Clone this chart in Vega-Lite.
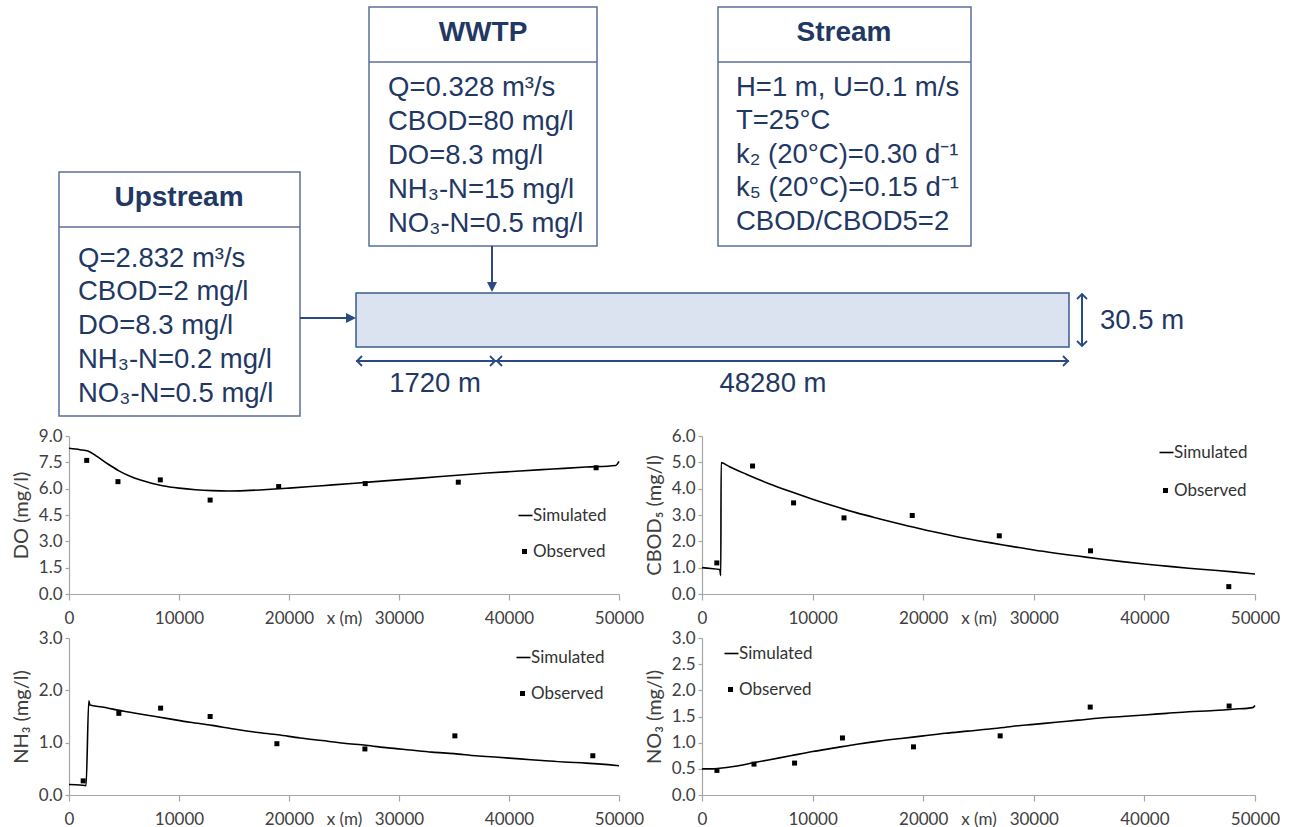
{
  "$schema": "https://vega.github.io/schema/vega-lite/v6.json",
  "background": "white",
  "padding": {"left": 11, "top": 0, "right": 0, "bottom": 0},
  "spacing": 3,
  "resolve": {"scale": {"shape": "independent"}, "legend": {"shape": "independent"}},
  "config": {
    "view": {"stroke": null},
    "font": "Lato",
    "axis": {"grid": false, "domainColor": "#a6a6a6", "tickColor": "#a6a6a6", "domainWidth": 1.2, "tickWidth": 1.2, "labelFont": "Lato", "labelFontSize": 17, "labelColor": "#404040", "titleFont": "Lato", "titleFontSize": 17, "titleFontWeight": "normal", "titleColor": "#404040", "labelOverlap": false},
    "legend": {"labelFont": "Lato", "labelFontSize": 17, "labelColor": "#333333", "padding": 0, "labelOffset": 0, "symbolSize": 100, "rowPadding": 19}
  },
  "datasets": {
    "boxes": [
      {"name": "Upstream", "x1": 60, "x2": 301, "y1": 172, "y2": 416},
      {"name": "WWTP", "x1": 370, "x2": 598, "y1": 7, "y2": 246},
      {"name": "Stream", "x1": 719, "x2": 972, "y1": 7, "y2": 246}
    ],
    "channel": [{"name": "reach", "x1": 357, "x2": 1070, "y1": 293, "y2": 347}],
    "dividers": [
      {"x1": 60, "x2": 301, "y": 227},
      {"x1": 370, "x2": 598, "y": 62},
      {"x1": 719, "x2": 972, "y": 62}
    ],
    "shafts": [
      {"x1": 301, "y1": 318, "x2": 350, "y2": 318},
      {"x1": 493, "y1": 246, "x2": 493, "y2": 285},
      {"x1": 357, "y1": 361, "x2": 497, "y2": 361},
      {"x1": 497, "y1": 361, "x2": 1070, "y2": 361},
      {"x1": 1083, "y1": 294, "x2": 1083, "y2": 346}
    ],
    "heads": [
      {"x": 357, "y": 318, "dir": "right"},
      {"x": 493, "y": 292, "dir": "down"}
    ],
    "chevrons": [
      {"x": 358, "y": 361, "dir": "left"},
      {"x": 496, "y": 361, "dir": "right"},
      {"x": 498, "y": 361, "dir": "left"},
      {"x": 1069, "y": 361, "dir": "right"},
      {"x": 1083, "y": 294, "dir": "up"},
      {"x": 1083, "y": 346, "dir": "down"}
    ],
    "titles": [
      {"text": "Upstream", "x": 180, "y": 198},
      {"text": "WWTP", "x": 484, "y": 33},
      {"text": "Stream", "x": 845, "y": 33}
    ],
    "lines": [
      {"text": "Q=2.832 m³/s", "x": 79, "y": 259},
      {"text": "CBOD=2 mg/l", "x": 79, "y": 292},
      {"text": "DO=8.3 mg/l", "x": 79, "y": 326},
      {"text": "NH₃-N=0.2 mg/l", "x": 79, "y": 360},
      {"text": "NO₃-N=0.5 mg/l", "x": 79, "y": 394},
      {"text": "Q=0.328 m³/s", "x": 389, "y": 88},
      {"text": "CBOD=80 mg/l", "x": 389, "y": 122},
      {"text": "DO=8.3 mg/l", "x": 389, "y": 156},
      {"text": "NH₃-N=15 mg/l", "x": 389, "y": 190},
      {"text": "NO₃-N=0.5 mg/l", "x": 389, "y": 224},
      {"text": "H=1 m, U=0.1 m/s", "x": 737, "y": 88},
      {"text": "T=25°C", "x": 737, "y": 121},
      {"text": "k₂ (20°C)=0.30 d⁻¹", "x": 737, "y": 155},
      {"text": "k₅ (20°C)=0.15 d⁻¹", "x": 737, "y": 188},
      {"text": "CBOD/CBOD5=2", "x": 737, "y": 222}
    ],
    "dims": [
      {"text": "1720 m", "x": 436, "y": 384},
      {"text": "48280 m", "x": 774, "y": 384},
      {"text": "30.5 m", "x": 1143, "y": 321}
    ],
    "do_sim": [
      {"x_m": 0, "value": 8.30}, {"x_m": 1000, "value": 8.22}, {"x_m": 1720, "value": 8.15}, {"x_m": 2500, "value": 7.85},
      {"x_m": 3500, "value": 7.42}, {"x_m": 4500, "value": 7.03}, {"x_m": 5500, "value": 6.72}, {"x_m": 6500, "value": 6.49},
      {"x_m": 7500, "value": 6.31}, {"x_m": 8500, "value": 6.17}, {"x_m": 10000, "value": 6.03}, {"x_m": 11500, "value": 5.94},
      {"x_m": 13000, "value": 5.89}, {"x_m": 14500, "value": 5.87}, {"x_m": 16000, "value": 5.89}, {"x_m": 18000, "value": 5.95},
      {"x_m": 20000, "value": 6.03}, {"x_m": 23000, "value": 6.17}, {"x_m": 26000, "value": 6.31}, {"x_m": 29000, "value": 6.46},
      {"x_m": 32000, "value": 6.60}, {"x_m": 35000, "value": 6.75}, {"x_m": 38000, "value": 6.89}, {"x_m": 41000, "value": 7.01},
      {"x_m": 44000, "value": 7.12}, {"x_m": 47000, "value": 7.23}, {"x_m": 49700, "value": 7.32}, {"x_m": 50000, "value": 7.55}
    ],
    "do_obs": [
      {"x_m": 1610, "value": 7.61, "series": "Observed"}, {"x_m": 4450, "value": 6.40, "series": "Observed"},
      {"x_m": 8300, "value": 6.50, "series": "Observed"}, {"x_m": 12830, "value": 5.35, "series": "Observed"},
      {"x_m": 19060, "value": 6.12, "series": "Observed"}, {"x_m": 26930, "value": 6.29, "series": "Observed"},
      {"x_m": 35390, "value": 6.37, "series": "Observed"}, {"x_m": 47920, "value": 7.19, "series": "Observed"}
    ],
    "cbod_sim": [
      {"x_m": 0, "value": 1.00}, {"x_m": 800, "value": 0.97}, {"x_m": 1600, "value": 0.93}, {"x_m": 1700, "value": 0.70},
      {"x_m": 1730, "value": 4.99}, {"x_m": 2500, "value": 4.83}, {"x_m": 4000, "value": 4.55}, {"x_m": 6000, "value": 4.20},
      {"x_m": 8000, "value": 3.89}, {"x_m": 10000, "value": 3.60}, {"x_m": 12000, "value": 3.33}, {"x_m": 14000, "value": 3.08},
      {"x_m": 16000, "value": 2.86}, {"x_m": 18000, "value": 2.65}, {"x_m": 20000, "value": 2.45}, {"x_m": 22000, "value": 2.27},
      {"x_m": 24000, "value": 2.10}, {"x_m": 26000, "value": 1.95}, {"x_m": 28000, "value": 1.81}, {"x_m": 30000, "value": 1.67},
      {"x_m": 32000, "value": 1.55}, {"x_m": 34000, "value": 1.44}, {"x_m": 36000, "value": 1.33}, {"x_m": 38000, "value": 1.23},
      {"x_m": 40000, "value": 1.14}, {"x_m": 42000, "value": 1.06}, {"x_m": 44000, "value": 0.98}, {"x_m": 46000, "value": 0.91},
      {"x_m": 48000, "value": 0.84}, {"x_m": 50000, "value": 0.76}
    ],
    "cbod_obs": [
      {"x_m": 1340, "value": 1.18, "series": "Observed"}, {"x_m": 4570, "value": 4.86, "series": "Observed"},
      {"x_m": 8280, "value": 3.46, "series": "Observed"}, {"x_m": 12840, "value": 2.89, "series": "Observed"},
      {"x_m": 19010, "value": 2.98, "series": "Observed"}, {"x_m": 26880, "value": 2.21, "series": "Observed"},
      {"x_m": 35130, "value": 1.64, "series": "Observed"}, {"x_m": 47630, "value": 0.28, "series": "Observed"}
    ],
    "nh3_sim": [
      {"x_m": 0, "value": 0.20}, {"x_m": 1000, "value": 0.19}, {"x_m": 1550, "value": 0.18}, {"x_m": 1800, "value": 1.80},
      {"x_m": 1900, "value": 1.72}, {"x_m": 3000, "value": 1.68}, {"x_m": 5000, "value": 1.60}, {"x_m": 7000, "value": 1.53},
      {"x_m": 9000, "value": 1.46}, {"x_m": 11000, "value": 1.39}, {"x_m": 13000, "value": 1.33}, {"x_m": 15000, "value": 1.26},
      {"x_m": 17000, "value": 1.20}, {"x_m": 19000, "value": 1.15}, {"x_m": 21000, "value": 1.09}, {"x_m": 23000, "value": 1.04},
      {"x_m": 25000, "value": 0.99}, {"x_m": 27000, "value": 0.95}, {"x_m": 29000, "value": 0.90}, {"x_m": 31000, "value": 0.86},
      {"x_m": 33000, "value": 0.82}, {"x_m": 35000, "value": 0.79}, {"x_m": 37000, "value": 0.75}, {"x_m": 39000, "value": 0.72},
      {"x_m": 41000, "value": 0.69}, {"x_m": 43000, "value": 0.66}, {"x_m": 45000, "value": 0.63}, {"x_m": 47000, "value": 0.61},
      {"x_m": 49000, "value": 0.58}, {"x_m": 50000, "value": 0.56}
    ],
    "nh3_obs": [
      {"x_m": 1290, "value": 0.27, "series": "Observed"}, {"x_m": 4530, "value": 1.56, "series": "Observed"},
      {"x_m": 8330, "value": 1.66, "series": "Observed"}, {"x_m": 12830, "value": 1.50, "series": "Observed"},
      {"x_m": 18900, "value": 0.98, "series": "Observed"}, {"x_m": 26900, "value": 0.88, "series": "Observed"},
      {"x_m": 35080, "value": 1.13, "series": "Observed"}, {"x_m": 47620, "value": 0.75, "series": "Observed"}
    ],
    "no3_sim": [
      {"x_m": 0, "value": 0.50}, {"x_m": 1000, "value": 0.50}, {"x_m": 1600, "value": 0.51}, {"x_m": 3000, "value": 0.55},
      {"x_m": 4500, "value": 0.61}, {"x_m": 6000, "value": 0.67}, {"x_m": 8000, "value": 0.75}, {"x_m": 10000, "value": 0.83},
      {"x_m": 12000, "value": 0.90}, {"x_m": 14000, "value": 0.97}, {"x_m": 16000, "value": 1.03}, {"x_m": 18000, "value": 1.08},
      {"x_m": 20000, "value": 1.13}, {"x_m": 22000, "value": 1.18}, {"x_m": 24000, "value": 1.22}, {"x_m": 26000, "value": 1.26},
      {"x_m": 28000, "value": 1.31}, {"x_m": 30000, "value": 1.35}, {"x_m": 32000, "value": 1.39}, {"x_m": 34000, "value": 1.43},
      {"x_m": 36000, "value": 1.47}, {"x_m": 38000, "value": 1.50}, {"x_m": 40000, "value": 1.53}, {"x_m": 42000, "value": 1.56},
      {"x_m": 44000, "value": 1.59}, {"x_m": 46000, "value": 1.61}, {"x_m": 48000, "value": 1.64}, {"x_m": 49800, "value": 1.67},
      {"x_m": 50000, "value": 1.71}
    ],
    "no3_obs": [
      {"x_m": 1350, "value": 0.47, "series": "Observed"}, {"x_m": 4700, "value": 0.59, "series": "Observed"},
      {"x_m": 8370, "value": 0.61, "series": "Observed"}, {"x_m": 12700, "value": 1.09, "series": "Observed"},
      {"x_m": 19120, "value": 0.92, "series": "Observed"}, {"x_m": 26960, "value": 1.13, "series": "Observed"},
      {"x_m": 35100, "value": 1.68, "series": "Observed"}, {"x_m": 47660, "value": 1.70, "series": "Observed"}
    ],
    "frame": [{"edge": "right"}]
  },
  "vconcat": [
    {
      "width": 1200,
      "height": 424,
      "layer": [
        {
          "data": {"name": "boxes"},
          "mark": {"type": "rect", "fill": "white", "stroke": "#5b6f9b", "strokeWidth": 1.5},
          "encoding": {
            "x": {"field": "x1", "type": "quantitative", "scale": {"domain": [70, 1270], "nice": false, "zero": false}, "axis": null},
            "x2": {"field": "x2"},
            "y": {"field": "y1", "type": "quantitative", "scale": {"domain": [0, 424], "nice": false, "zero": false, "reverse": true}, "axis": null},
            "y2": {"field": "y2"}
          }
        },
        {
          "data": {"name": "channel"},
          "mark": {"type": "rect", "fill": "#dbe2f0", "stroke": "#3d5a8f", "strokeWidth": 1.5},
          "encoding": {
            "x": {"field": "x1", "type": "quantitative", "scale": {"domain": [70, 1270], "nice": false, "zero": false}, "axis": null},
            "x2": {"field": "x2"},
            "y": {"field": "y1", "type": "quantitative", "scale": {"domain": [0, 424], "nice": false, "zero": false, "reverse": true}, "axis": null},
            "y2": {"field": "y2"}
          }
        },
        {
          "data": {"name": "dividers"},
          "mark": {"type": "rule", "stroke": "#5b6f9b", "strokeWidth": 1.5},
          "encoding": {
            "x": {"field": "x1", "type": "quantitative", "scale": {"domain": [70, 1270], "nice": false, "zero": false}, "axis": null},
            "x2": {"field": "x2"},
            "y": {"field": "y", "type": "quantitative", "scale": {"domain": [0, 424], "nice": false, "zero": false, "reverse": true}, "axis": null}
          }
        },
        {
          "data": {"name": "shafts"},
          "mark": {"type": "rule", "stroke": "#2b4a80", "strokeWidth": 2},
          "encoding": {
            "x": {"field": "x1", "type": "quantitative", "scale": {"domain": [70, 1270], "nice": false, "zero": false}, "axis": null},
            "x2": {"field": "x2"},
            "y": {"field": "y1", "type": "quantitative", "scale": {"domain": [0, 424], "nice": false, "zero": false, "reverse": true}, "axis": null},
            "y2": {"field": "y2"}
          }
        },
        {
          "data": {"name": "heads"},
          "transform": [{"filter": "datum.dir == 'right'"}],
          "mark": {"type": "point", "filled": true, "opacity": 1, "color": "#2b4a80", "size": 100, "shape": "M -2 -1 L 0 0 L -2 1 Z"},
          "encoding": {
            "x": {"field": "x", "type": "quantitative", "scale": {"domain": [70, 1270], "nice": false, "zero": false}, "axis": null},
            "y": {"field": "y", "type": "quantitative", "scale": {"domain": [0, 424], "nice": false, "zero": false, "reverse": true}, "axis": null}
          }
        },
        {
          "data": {"name": "heads"},
          "transform": [{"filter": "datum.dir == 'down'"}],
          "mark": {"type": "point", "filled": true, "opacity": 1, "color": "#2b4a80", "size": 100, "shape": "M -1 -2 L 0 0 L 1 -2 Z"},
          "encoding": {
            "x": {"field": "x", "type": "quantitative", "scale": {"domain": [70, 1270], "nice": false, "zero": false}, "axis": null},
            "y": {"field": "y", "type": "quantitative", "scale": {"domain": [0, 424], "nice": false, "zero": false, "reverse": true}, "axis": null}
          }
        },
        {
          "data": {"name": "chevrons"},
          "transform": [{"filter": "datum.dir == 'left'"}],
          "mark": {"type": "point", "filled": false, "opacity": 1, "color": "#2b4a80", "strokeWidth": 1.8, "size": 100, "shape": "M 1 -1 L 0 0 L 1 1"},
          "encoding": {
            "x": {"field": "x", "type": "quantitative", "scale": {"domain": [70, 1270], "nice": false, "zero": false}, "axis": null},
            "y": {"field": "y", "type": "quantitative", "scale": {"domain": [0, 424], "nice": false, "zero": false, "reverse": true}, "axis": null}
          }
        },
        {
          "data": {"name": "chevrons"},
          "transform": [{"filter": "datum.dir == 'right'"}],
          "mark": {"type": "point", "filled": false, "opacity": 1, "color": "#2b4a80", "strokeWidth": 1.8, "size": 100, "shape": "M -1 -1 L 0 0 L -1 1"},
          "encoding": {
            "x": {"field": "x", "type": "quantitative", "scale": {"domain": [70, 1270], "nice": false, "zero": false}, "axis": null},
            "y": {"field": "y", "type": "quantitative", "scale": {"domain": [0, 424], "nice": false, "zero": false, "reverse": true}, "axis": null}
          }
        },
        {
          "data": {"name": "chevrons"},
          "transform": [{"filter": "datum.dir == 'up'"}],
          "mark": {"type": "point", "filled": false, "opacity": 1, "color": "#2b4a80", "strokeWidth": 1.8, "size": 100, "shape": "M -1 1 L 0 0 L 1 1"},
          "encoding": {
            "x": {"field": "x", "type": "quantitative", "scale": {"domain": [70, 1270], "nice": false, "zero": false}, "axis": null},
            "y": {"field": "y", "type": "quantitative", "scale": {"domain": [0, 424], "nice": false, "zero": false, "reverse": true}, "axis": null}
          }
        },
        {
          "data": {"name": "chevrons"},
          "transform": [{"filter": "datum.dir == 'down'"}],
          "mark": {"type": "point", "filled": false, "opacity": 1, "color": "#2b4a80", "strokeWidth": 1.8, "size": 100, "shape": "M -1 -1 L 0 0 L 1 -1"},
          "encoding": {
            "x": {"field": "x", "type": "quantitative", "scale": {"domain": [70, 1270], "nice": false, "zero": false}, "axis": null},
            "y": {"field": "y", "type": "quantitative", "scale": {"domain": [0, 424], "nice": false, "zero": false, "reverse": true}, "axis": null}
          }
        },
        {
          "data": {"name": "titles"},
          "mark": {"type": "text", "font": "Liberation Sans", "fontSize": 28, "fontWeight": "bold", "color": "#1f3864", "align": "center", "baseline": "middle"},
          "encoding": {
            "x": {"field": "x", "type": "quantitative", "scale": {"domain": [70, 1270], "nice": false, "zero": false}, "axis": null},
            "y": {"field": "y", "type": "quantitative", "scale": {"domain": [0, 424], "nice": false, "zero": false, "reverse": true}, "axis": null},
            "text": {"field": "text"}
          }
        },
        {
          "data": {"name": "lines"},
          "mark": {"type": "text", "font": "Liberation Sans", "fontSize": 27.5, "color": "#1f3864", "align": "left", "baseline": "middle"},
          "encoding": {
            "x": {"field": "x", "type": "quantitative", "scale": {"domain": [70, 1270], "nice": false, "zero": false}, "axis": null},
            "y": {"field": "y", "type": "quantitative", "scale": {"domain": [0, 424], "nice": false, "zero": false, "reverse": true}, "axis": null},
            "text": {"field": "text"}
          }
        },
        {
          "data": {"name": "dims"},
          "mark": {"type": "text", "font": "Liberation Sans", "fontSize": 27.5, "color": "#1f3864", "align": "center", "baseline": "middle"},
          "encoding": {
            "x": {"field": "x", "type": "quantitative", "scale": {"domain": [70, 1270], "nice": false, "zero": false}, "axis": null},
            "y": {"field": "y", "type": "quantitative", "scale": {"domain": [0, 424], "nice": false, "zero": false, "reverse": true}, "axis": null},
            "text": {"field": "text"}
          }
        }
      ]
    },
    {
      "resolve": {"scale": {"shape": "independent"}, "legend": {"shape": "independent"}},
      "hconcat": [
        {
          "width": 550,
          "height": 158,
          "encoding": {
            "x": {"field": "x_m", "type": "quantitative", "scale": {"domain": [0, 50000], "nice": false}, "axis": {"title": "x (m)", "values": [0, 10000, 20000, 30000, 40000, 50000], "format": "d", "tickSize": 6, "labelPadding": 10, "labelFlush": false, "titleY": 24, "titleBaseline": "middle", "labelFontSize": 17, "titleFontSize": 17}},
            "y": {"field": "value", "type": "quantitative", "scale": {"domain": [0, 9], "nice": false}, "axis": {"title": "DO (mg/l)", "values": [0, 1.5, 3, 4.5, 6, 7.5, 9], "format": ".1f", "tickSize": 4, "labelPadding": 3, "titlePadding": 7, "labelFontSize": 17, "titleFontSize": 20}}
          },
          "layer": [
            {"data": {"name": "frame"}, "mark": {"type": "rule", "color": "#a6a6a6", "strokeWidth": 1.2}, "encoding": {"x": {"datum": 50000}, "y": {"datum": 0}, "y2": {"datum": 9}}},
            {"data": {"name": "do_sim"}, "mark": {"type": "line", "color": "black", "strokeWidth": 1.6, "interpolate": "monotone"}},
            {"data": {"name": "do_obs"}, "mark": {"type": "point", "filled": true, "color": "black", "size": 100, "opacity": 1},
             "encoding": {"shape": {"field": "series", "type": "nominal", "scale": {"domain": ["Simulated", "Observed"], "range": ["M -1.2 -0.16 L 1.6 -0.16 L 1.6 0.16 L -1.2 0.16 Z", "M -0.5 -0.5 L 0.5 -0.5 L 0.5 0.5 L -0.5 0.5 Z"]},
               "legend": {"title": null, "orient": "none", "legendX": 447, "legendY": 71, "labelFontSize": 17, "rowPadding": 18, "symbolSize": 100, "labelOffset": 0}}}}
          ]
        },
        {
          "width": 553,
          "height": 158,
          "encoding": {
            "x": {"field": "x_m", "type": "quantitative", "scale": {"domain": [0, 50000], "nice": false}, "axis": {"title": "x (m)", "values": [0, 10000, 20000, 30000, 40000, 50000], "format": "d", "tickSize": 6, "labelPadding": 10, "labelFlush": false, "titleY": 24, "titleBaseline": "middle", "labelFontSize": 17, "titleFontSize": 17}},
            "y": {"field": "value", "type": "quantitative", "scale": {"domain": [0, 6], "nice": false}, "axis": {"title": "CBOD₅ (mg/l)", "values": [0, 1, 2, 3, 4, 5, 6], "format": ".1f", "tickSize": 4, "labelPadding": 3, "titlePadding": 7, "labelFontSize": 17, "titleFontSize": 20}}
          },
          "layer": [
            {"data": {"name": "frame"}, "mark": {"type": "rule", "color": "#a6a6a6", "strokeWidth": 1.2}, "encoding": {"x": {"datum": 50000}, "y": {"datum": 0}, "y2": {"datum": 6}}},
            {"data": {"name": "cbod_sim"}, "mark": {"type": "line", "color": "black", "strokeWidth": 1.6, "interpolate": "monotone"}},
            {"data": {"name": "cbod_obs"}, "mark": {"type": "point", "filled": true, "color": "black", "size": 100, "opacity": 1},
             "encoding": {"shape": {"field": "series", "type": "nominal", "scale": {"domain": ["Simulated", "Observed"], "range": ["M -1.2 -0.16 L 1.6 -0.16 L 1.6 0.16 L -1.2 0.16 Z", "M -0.5 -0.5 L 0.5 -0.5 L 0.5 0.5 L -0.5 0.5 Z"]},
               "legend": {"title": null, "orient": "none", "legendX": 455, "legendY": 8, "labelFontSize": 17, "rowPadding": 20, "symbolSize": 100, "labelOffset": 0}}}}
          ]
        }
      ],
      "spacing": 0
    },
    {
      "resolve": {"scale": {"shape": "independent"}, "legend": {"shape": "independent"}},
      "hconcat": [
        {
          "width": 550,
          "height": 157,
          "encoding": {
            "x": {"field": "x_m", "type": "quantitative", "scale": {"domain": [0, 50000], "nice": false}, "axis": {"title": "x (m)", "values": [0, 10000, 20000, 30000, 40000, 50000], "format": "d", "tickSize": 6, "labelPadding": 10, "labelFlush": false, "titleY": 24, "titleBaseline": "middle", "labelFontSize": 17, "titleFontSize": 17}},
            "y": {"field": "value", "type": "quantitative", "scale": {"domain": [0, 3], "nice": false}, "axis": {"title": "NH₃ (mg/l)", "values": [0, 1, 2, 3], "format": ".1f", "tickSize": 4, "labelPadding": 3, "titlePadding": 7, "labelFontSize": 17, "titleFontSize": 20}}
          },
          "layer": [
            {"data": {"name": "frame"}, "mark": {"type": "rule", "color": "#a6a6a6", "strokeWidth": 1.2}, "encoding": {"x": {"datum": 50000}, "y": {"datum": 0}, "y2": {"datum": 3}}},
            {"data": {"name": "nh3_sim"}, "mark": {"type": "line", "color": "black", "strokeWidth": 1.6, "interpolate": "monotone"}},
            {"data": {"name": "nh3_obs"}, "mark": {"type": "point", "filled": true, "color": "black", "size": 100, "opacity": 1},
             "encoding": {"shape": {"field": "series", "type": "nominal", "scale": {"domain": ["Simulated", "Observed"], "range": ["M -1.2 -0.16 L 1.6 -0.16 L 1.6 0.16 L -1.2 0.16 Z", "M -0.5 -0.5 L 0.5 -0.5 L 0.5 0.5 L -0.5 0.5 Z"]},
               "legend": {"title": null, "orient": "none", "legendX": 445, "legendY": 11, "labelFontSize": 17, "rowPadding": 18, "symbolSize": 100, "labelOffset": 0}}}}
          ]
        },
        {
          "width": 553,
          "height": 157,
          "encoding": {
            "x": {"field": "x_m", "type": "quantitative", "scale": {"domain": [0, 50000], "nice": false}, "axis": {"title": "x (m)", "values": [0, 10000, 20000, 30000, 40000, 50000], "format": "d", "tickSize": 6, "labelPadding": 10, "labelFlush": false, "titleY": 24, "titleBaseline": "middle", "labelFontSize": 17, "titleFontSize": 17}},
            "y": {"field": "value", "type": "quantitative", "scale": {"domain": [0, 3], "nice": false}, "axis": {"title": "NO₃ (mg/l)", "values": [0, 0.5, 1, 1.5, 2, 2.5, 3], "format": ".1f", "tickSize": 4, "labelPadding": 3, "titlePadding": 7, "labelFontSize": 17, "titleFontSize": 20}}
          },
          "layer": [
            {"data": {"name": "frame"}, "mark": {"type": "rule", "color": "#a6a6a6", "strokeWidth": 1.2}, "encoding": {"x": {"datum": 50000}, "y": {"datum": 0}, "y2": {"datum": 3}}},
            {"data": {"name": "no3_sim"}, "mark": {"type": "line", "color": "black", "strokeWidth": 1.6, "interpolate": "monotone"}},
            {"data": {"name": "no3_obs"}, "mark": {"type": "point", "filled": true, "color": "black", "size": 100, "opacity": 1},
             "encoding": {"shape": {"field": "series", "type": "nominal", "scale": {"domain": ["Simulated", "Observed"], "range": ["M -1.2 -0.16 L 1.6 -0.16 L 1.6 0.16 L -1.2 0.16 Z", "M -0.5 -0.5 L 0.5 -0.5 L 0.5 0.5 L -0.5 0.5 Z"]},
               "legend": {"title": null, "orient": "none", "legendX": 20, "legendY": 7, "labelFontSize": 17, "rowPadding": 18, "symbolSize": 100, "labelOffset": 0}}}}
          ]
        }
      ],
      "spacing": 0
    }
  ]
}
